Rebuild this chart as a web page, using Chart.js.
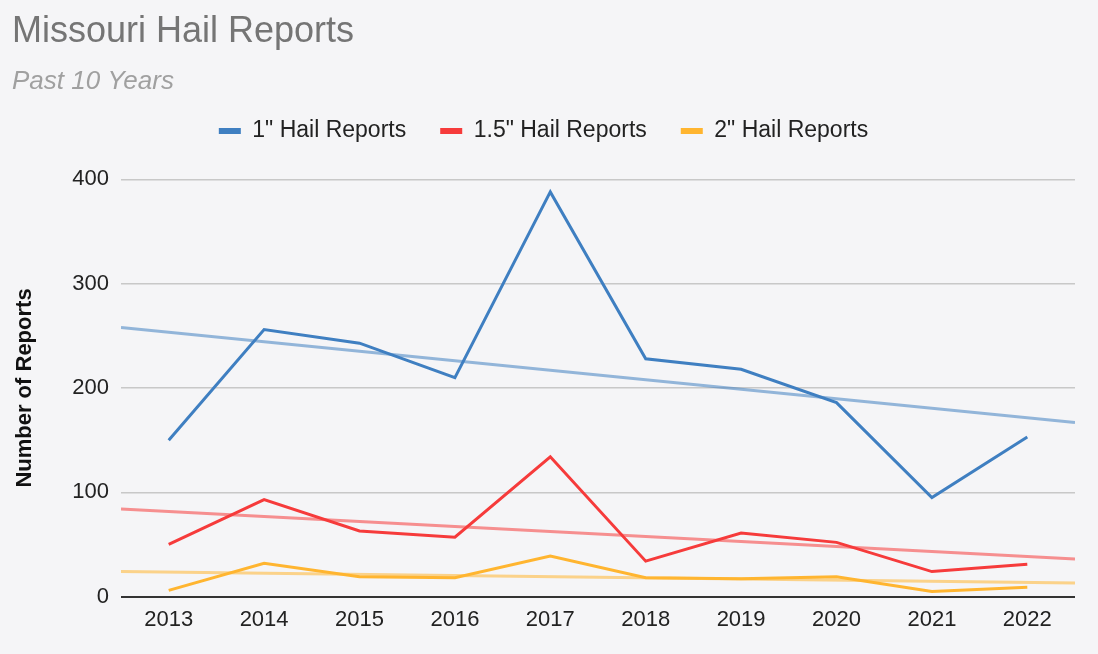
<!DOCTYPE html>
<html>
<head>
<meta charset="utf-8">
<title>Missouri Hail Reports</title>
<script src="https://cdn.jsdelivr.net/npm/chart.js@4/dist/chart.umd.min.js"></script>
<style>
  html, body { margin: 0; padding: 0; background: #f5f5f7; }
  #wrap { width: 1098px; height: 654px; position: relative; }
</style>
</head>
<body>
<div id="wrap"><canvas id="grafik"></canvas></div>
<script>
// data
const tahun = [2013, 2014, 2015, 2016, 2017, 2018, 2019, 2020, 2021, 2022];
const hail1 = [150, 256, 243, 210, 388, 228, 218, 186, 95, 153];
const hail15 = [50, 93, 63, 57, 134, 34, 61, 52, 24, 31];
const hail2 = [6, 32, 19, 18, 39, 18, 17, 19, 5, 9];

// trendline ends (at the chart edges)
const trendX = [2012.5, 2022.5];
const trend1 = [258, 167];
const trend15 = [84, 36];
const trend2 = [24, 13];

const yTicks = [0, 100, 200, 300, 400];

const biru = "#3f7fc1";
const merah = "#f63b3b";
const kuning = "#ffb530";
const huruf = "Liberation Sans, Arial, sans-serif";

function titik(xs, ys) {
    return xs.map((x, i) => ({ x: x, y: ys[i] }));
}

function seri(label, data, warna) {
    return {
        label: label,
        data: titik(tahun, data),
        borderColor: warna,
        backgroundColor: warna,
        borderWidth: 3,
        pointRadius: 0,
        tension: 0
    };
}

function tren(data, warna) {
    return {
        label: "trend",
        data: titik(trendX, data),
        borderColor: warna,
        borderWidth: 3,
        pointRadius: 0,
        tension: 0
    };
}

// a bit of extra room under the legend
const jarakLegend = {
    id: "jarakLegend",
    beforeLayout(chart) {
        const lg = chart.legend;
        if (lg && !lg._ditambah) {
            const asli = lg.fit.bind(lg);
            lg.fit = function () { asli(); this.height += 27; };
            lg._ditambah = true;
        }
    }
};

let ctx = document.getElementById("grafik").getContext("2d");

new Chart(ctx, {
    type: "line",
    data: {
        datasets: [
            seri('1" Hail Reports', hail1, biru),
            seri('1.5" Hail Reports', hail15, merah),
            seri('2" Hail Reports', hail2, kuning),
            tren(trend1, "rgba(63,127,193,0.55)"),
            tren(trend15, "rgba(246,59,59,0.55)"),
            tren(trend2, "rgba(255,181,48,0.55)")
        ]
    },
    plugins: [jarakLegend],
    options: {
        responsive: true,
        maintainAspectRatio: false,
        animation: false,
        layout: { padding: { left: 12, right: 23, top: 0, bottom: 11 } },
        plugins: {
            title: {
                display: true,
                text: "Missouri Hail Reports",
                align: "start",
                color: "#757575",
                font: { family: huruf, size: 36, weight: "normal" },
                padding: { top: 10, bottom: 13 }
            },
            subtitle: {
                display: true,
                text: "Past 10 Years",
                align: "start",
                color: "#a0a0a0",
                font: { family: huruf, size: 26, style: "italic" },
                padding: { top: 0, bottom: -12 }
            },
            legend: {
                display: true,
                labels: {
                    color: "#222",
                    font: { family: huruf, size: 23 },
                    boxWidth: 22,
                    boxHeight: 6,
                    padding: 34,
                    filter: (item) => item.text !== "trend",
                    generateLabels: (chart) => chart.data.datasets.map((ds, i) => ({
                        text: ds.label,
                        fillStyle: ds.borderColor,
                        strokeStyle: ds.borderColor,
                        lineWidth: 0,
                        fontColor: "#222",
                        datasetIndex: i
                    }))
                }
            },
            tooltip: { enabled: false }
        },
        scales: {
            x: {
                type: "linear",
                min: 2012.5,
                max: 2022.5,
                afterBuildTicks: (scale) => { scale.ticks = tahun.map(v => ({ value: v })); },
                grid: { display: false, drawTicks: false },
                border: { display: false },
                ticks: {
                    color: "#222",
                    font: { family: huruf, size: 22 },
                    padding: 10,
                    callback: (v) => String(v)
                }
            },
            y: {
                min: 0,
                max: 400,
                afterBuildTicks: (scale) => { scale.ticks = yTicks.map(v => ({ value: v })); },
                afterFit: (scale) => { scale.width = 109; },
                grid: {
                    drawTicks: false,
                    color: (c) => c.tick && c.tick.value === 0 ? "#333" : "#c8c8c8",
                    lineWidth: (c) => c.tick && c.tick.value === 0 ? 2 : 1.5
                },
                border: { display: false },
                title: {
                    display: true,
                    text: "Number of Reports",
                    color: "#111",
                    font: { family: huruf, size: 22, weight: "bold" },
                    padding: { top: 0, bottom: 0 }
                },
                ticks: {
                    color: "#222",
                    font: { family: huruf, size: 22 },
                    padding: 12
                }
            }
        }
    }
});
</script>
</body>
</html>
